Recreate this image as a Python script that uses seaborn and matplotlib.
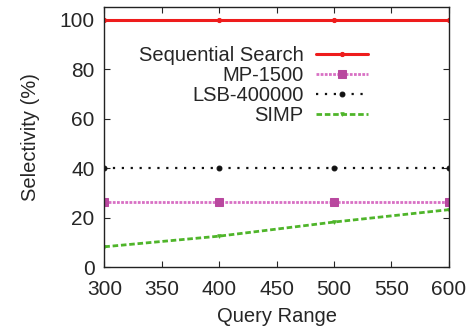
import matplotlib
matplotlib.use("Agg")
import matplotlib.pyplot as plt
import seaborn as sns
import pandas as pd

query_range = [300, 400, 500, 600]
sequential = [100, 100, 100, 100]
mp1500 = [26.3, 26.3, 26.3, 26.3]
lsb400000 = [40, 40, 40, 40]
simp = [8.2, 12.5, 18.2, 23.2]

series = {
    "Sequential Search": sequential,
    "MP-1500": mp1500,
    "LSB-400000": lsb400000,
    "SIMP": simp,
}
styles = {
    "Sequential Search": dict(color="#ee1c1c", linestyle="-", marker="o", markersize=3,
                              markeredgecolor="#ee1c1c", linewidth=2.2),
    "MP-1500": dict(color="#d870c4", linestyle=(0, (1, 0.5)), marker="s", markersize=6,
                    markerfacecolor="#b9489f", markeredgecolor="#b9489f", linewidth=2.0),
    "LSB-400000": dict(color="#111111", linestyle=(0, (1, 3)), marker="o", markersize=3.5,
                       markeredgecolor="#111111", linewidth=1.6),
    "SIMP": dict(color="#4fb52a", linestyle=(0, (2, 1)), marker="v", markersize=2.5,
                 markeredgecolor="#4fb52a", linewidth=2.0),
}

sns.set_style("ticks")
plt.rcParams["font.family"] = ["Liberation Sans", "DejaVu Sans"]

fig, ax = plt.subplots(figsize=(4.7, 3.33), dpi=100)
fig.subplots_adjust(left=0.222, right=0.955, top=0.978, bottom=0.198)

for name, vals in series.items():
    df = pd.DataFrame({"x": query_range, "y": vals})
    sns.lineplot(data=df, x="x", y="y", ax=ax, label=name, **styles[name])

ax.set_xlim(300, 600)
ax.set_ylim(0, 105)
ax.set_xticks([300, 350, 400, 450, 500, 550, 600])
ax.set_yticks([0, 20, 40, 60, 80, 100])
ax.tick_params(direction="in", length=4, width=0.8, labelsize=15, top=True, right=True)
ax.tick_params(axis="x", pad=9)
ax.tick_params(axis="y", pad=7)
for s in ax.spines.values():
    s.set_linewidth(1.0)
    s.set_color("#222222")
ax.set_xlabel("Query Range", fontsize=14.5, labelpad=6)
ax.set_ylabel("Selectivity (%)", fontsize=14.5, labelpad=14)

ax.legend(loc="upper right", bbox_to_anchor=(0.765, 0.85), frameon=False, markerfirst=False,
          fontsize=14.5, handlelength=2.6, labelspacing=0.05, handletextpad=0.6,
          borderaxespad=0, borderpad=0)

fig.savefig("out.png", dpi=100)
